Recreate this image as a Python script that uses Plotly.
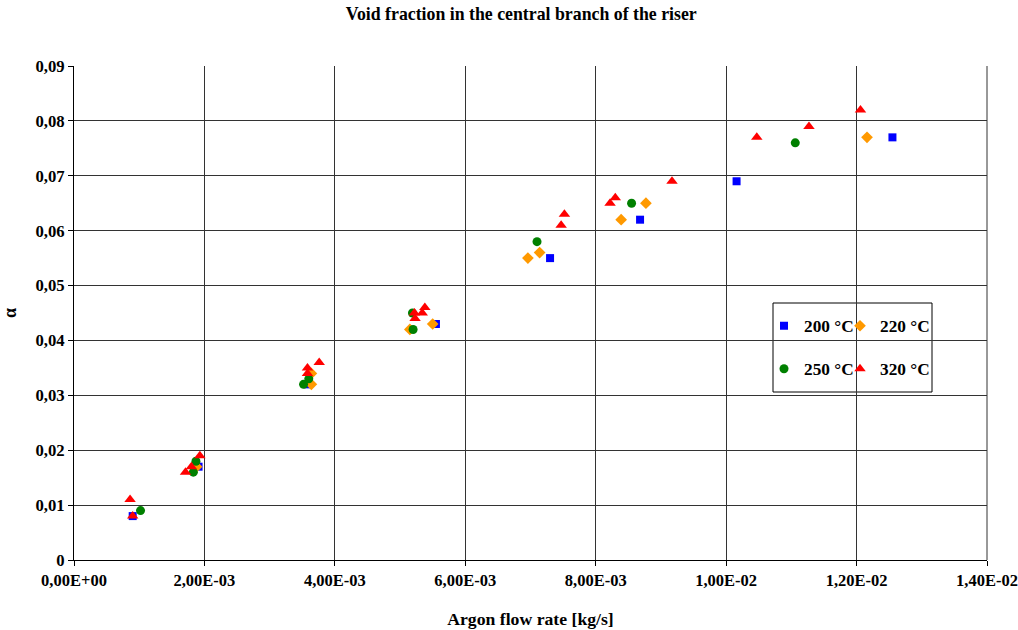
import plotly.graph_objects as go

# ---- data ----
x_200 = [0.00090, 0.00191, 0.00358, 0.00555, 0.00730, 0.00868, 0.01016, 0.01255]
y_200 = [0.008, 0.017, 0.032, 0.043, 0.055, 0.062, 0.069, 0.077]

x_220 = [0.00188, 0.00364, 0.00364, 0.00515, 0.00550, 0.00696, 0.00714, 0.00839, 0.00877, 0.01216]
y_220 = [0.017, 0.032, 0.034, 0.042, 0.043, 0.055, 0.056, 0.062, 0.065, 0.077]

x_250 = [0.00102, 0.00183, 0.00187, 0.00352, 0.00360, 0.00520, 0.00519, 0.00710, 0.00855, 0.01106]
y_250 = [0.009, 0.016, 0.018, 0.032, 0.033, 0.042, 0.045, 0.058, 0.065, 0.076]

x_320 = [0.00086, 0.00090, 0.00171, 0.00180, 0.00193, 0.00358, 0.00358, 0.00376,
         0.00523, 0.00522, 0.00534, 0.00538, 0.00747, 0.00752, 0.00822, 0.00830,
         0.00917, 0.01047, 0.01127, 0.01206]
y_320 = [0.011, 0.008, 0.016, 0.017, 0.019, 0.034, 0.035, 0.036,
         0.044, 0.045, 0.045, 0.046, 0.061, 0.063, 0.065, 0.066,
         0.069, 0.077, 0.079, 0.082]

x_ticks = [0, 0.002, 0.004, 0.006, 0.008, 0.010, 0.012, 0.014]
x_tick_labels = ["0,00E+00", "2,00E-03", "4,00E-03", "6,00E-03", "8,00E-03",
                 "1,00E-02", "1,20E-02", "1,40E-02"]
y_ticks = [0, 0.01, 0.02, 0.03, 0.04, 0.05, 0.06, 0.07, 0.08, 0.09]
y_tick_labels = ["0", "0,01", "0,02", "0,03", "0,04", "0,05", "0,06", "0,07", "0,08", "0,09"]

series_names = ["200 °C", "220 °C", "250 °C", "320 °C"]

FONT = "Liberation Serif"

def bfont(size):
    return dict(family=FONT, size=size, color="black", weight="bold")

fig = go.Figure()
specs = [
    (x_200, y_200, series_names[0], "square", "#0000FF", 8, "legend"),
    (x_220, y_220, series_names[1], "diamond", "#FF9900", 9, "legend2"),
    (x_250, y_250, series_names[2], "circle", "#008000", 9, "legend3"),
    (x_320, y_320, series_names[3], "triangle-up", "#FF0000", 10, "legend4"),
]
for xs, ys, name, sym, col, size, leg in specs:
    fig.add_trace(go.Scatter(
        x=xs, y=ys, mode="markers", name=name, legend=leg,
        marker=dict(symbol=sym, color=col, size=size, line=dict(width=0)),
    ))

L, R, T, B = 74, 987, 66, 560
W, H = 1018, 630
pw, ph = R - L, B - T

def px_x(p):
    return (p - L) / pw

def px_y(p):
    return (B - p) / ph

def leg(xp, yp):
    return dict(x=px_x(xp), y=px_y(yp), xanchor="left", yanchor="middle",
                bgcolor="rgba(0,0,0,0)", borderwidth=0, font=bfont(17.3),
                itemwidth=30)

fig.update_layout(
    width=W, height=H,
    margin=dict(l=L, r=W - R, t=T, b=H - B, autoexpand=False),
    paper_bgcolor="white", plot_bgcolor="white",
    font=dict(family=FONT, size=16, color="black"),
    title=dict(text="Void fraction in the central branch of the riser",
               x=0.512, xanchor="center", y=1 - 14 / H, yanchor="middle",
               font=bfont(17.8)),
    showlegend=True,
    legend=leg(764, 326),
    legend2=leg(840, 326),
    legend3=leg(764, 369),
    legend4=leg(840, 369),
    shapes=[dict(type="rect", xref="paper", yref="paper",
                 x0=px_x(773), x1=px_x(932), y0=px_y(392), y1=px_y(303),
                 line=dict(color="black", width=1), fillcolor="white", layer="below")],
)

fig.update_xaxes(
    range=[0, 0.014], tickvals=x_ticks, ticktext=x_tick_labels,
    showgrid=True, gridcolor="#333333", gridwidth=1,
    showline=True, linecolor="black", linewidth=1, mirror=False,
    ticks="outside", ticklen=5, tickcolor="black",
    tickfont=bfont(16.5), automargin=False, ticklabeloverflow="allow",
    zeroline=False,
    title=dict(text="Argon flow rate [kg/s]", standoff=23, font=bfont(17.7)),
)
fig.update_yaxes(
    range=[0, 0.09], tickvals=y_ticks, ticktext=y_tick_labels,
    showgrid=True, gridcolor="#333333", gridwidth=1,
    showline=True, linecolor="black", linewidth=1,
    ticks="outside", ticklen=5, tickcolor="black",
    tickfont=bfont(16.7), automargin=False, ticklabeloverflow="allow",
    zeroline=False,
    title=dict(text="α", standoff=16, font=bfont(18)),
)
fig.add_shape(type="line", xref="paper", yref="paper", x0=1, x1=1, y0=0, y1=1,
              line=dict(color="#333333", width=1), layer="below")

fig.write_html("out.html")
